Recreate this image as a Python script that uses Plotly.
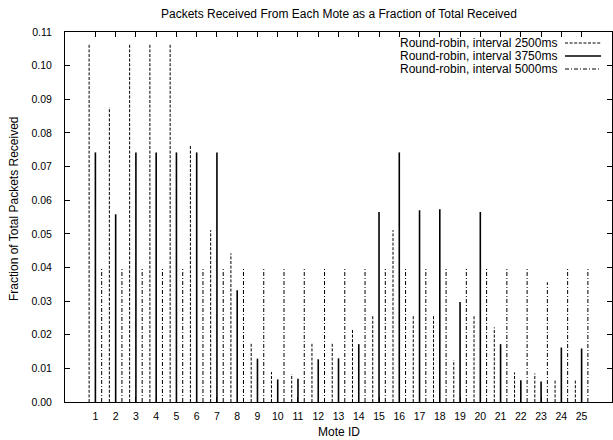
import plotly.graph_objects as go

motes = list(range(1, 26))
r2500 = [0.1064, 0.0876, 0.1064, 0.1064, 0.1064, 0.0763, 0.0511, 0.0442, 0.0177, 0.0089,
         0.0083, 0.0177, 0.0177, 0.0219, 0.0258, 0.0511, 0.0258, 0.0258, 0.0124, 0.0255,
         0.0222, 0.0088, 0.0085, 0.0068, 0.0067]
r3750 = [0.0742, 0.0558, 0.0742, 0.0742, 0.0742, 0.0742, 0.0742, 0.0332, 0.0129, 0.0067,
         0.0069, 0.0127, 0.0130, 0.0172, 0.0565, 0.0742, 0.0570, 0.0573, 0.0297, 0.0565,
         0.0172, 0.0065, 0.0061, 0.0162, 0.0159]
r5000 = [0.0396, 0.0396, 0.0396, 0.0396, 0.0396, 0.0396, 0.0396, 0.0396, 0.0396, 0.0396,
         0.0396, 0.0396, 0.0396, 0.0396, 0.0396, 0.0396, 0.0396, 0.0396, 0.0396, 0.0396,
         0.0396, 0.0396, 0.0356, 0.0396, 0.0396]
series_names = ["Round-robin, interval 2500ms",
                "Round-robin, interval 3750ms",
                "Round-robin, interval 5000ms"]
y_ticks = [0.00, 0.01, 0.02, 0.03, 0.04, 0.05, 0.06, 0.07, 0.08, 0.09, 0.10, 0.11]

FONT = "Liberation Sans, Arial, sans-serif"
styles = [dict(dash="3px,1.6px", width=1.0),
          dict(dash="solid", width=1.6),
          dict(dash="4px,2px,1px,2px", width=1.0)]
offsets = [-0.31, 0.0, 0.31]

fig = go.Figure()
for vals, name, st, off in zip([r2500, r3750, r5000], series_names, styles, offsets):
    xs, ys = [], []
    for m, v in zip(motes, vals):
        xs += [m + off, m + off, None]
        ys += [0, v, None]
    fig.add_trace(go.Scatter(x=xs, y=ys, mode="lines", name=name,
                             line=dict(color="black", dash=st["dash"], width=st["width"]),
                             showlegend=False, hoverinfo="skip"))

W, H = 613, 440
L, R, T, B = 65, 1, 32, 38
pw = W - L - R
ph = H - T - B

def px(x):
    return (x - L) / pw

def py(y):
    return 1 - (y - T) / ph

annotations = [
    dict(text="Packets Received From Each Mote as a Fraction of Total Received",
         xref="paper", yref="paper", x=0.5, y=py(14), xanchor="center", yanchor="middle",
         showarrow=False, font=dict(size=12, family=FONT, color="black")),
    dict(text="Mote ID", xref="paper", yref="paper", x=0.5, y=py(432),
         xanchor="center", yanchor="middle", showarrow=False,
         font=dict(size=12, family=FONT, color="black")),
    dict(text="Fraction of Total Packets Received", xref="paper", yref="paper",
         x=px(14), y=py(209), xanchor="center", yanchor="middle", textangle=-90,
         showarrow=False, font=dict(size=12, family=FONT, color="black")),
]
shapes = []
leg_rows = [43.0, 56.0, 69.0]
for name, st, ry in zip(series_names, styles, leg_rows):
    annotations.append(dict(text=name, xref="paper", yref="paper", x=px(558), y=py(ry),
                            xanchor="right", yanchor="middle", showarrow=False, borderpad=0,
                            font=dict(size=12, family=FONT, color="black")))
    shapes.append(dict(type="line", xref="paper", yref="paper",
                       x0=px(565), x1=px(601), y0=py(ry), y1=py(ry),
                       line=dict(color="black", dash=st["dash"], width=st["width"])))

axis_common = dict(showline=True, linecolor="black", linewidth=1, mirror="ticks",
                   ticks="inside", ticklen=5, tickcolor="black", tickwidth=1,
                   showgrid=False, zeroline=False,
                   tickfont=dict(size=10.5, family=FONT, color="black"))

fig.update_layout(
    width=W, height=H,
    margin=dict(l=L, r=R, t=T, b=B, autoexpand=False),
    paper_bgcolor="white", plot_bgcolor="white",
    showlegend=False,
    xaxis=dict(range=[-0.5, 26.5], tickmode="array", tickvals=motes,
               ticktext=[str(m) for m in motes], ticklabelstandoff=4, **axis_common),
    yaxis=dict(range=[0, 0.11], tickmode="array", tickvals=y_ticks,
               ticktext=[f"{v:.2f}" for v in y_ticks], ticklabelstandoff=10, **axis_common),
    annotations=annotations,
    shapes=shapes,
)

fig.write_html("out.html")
